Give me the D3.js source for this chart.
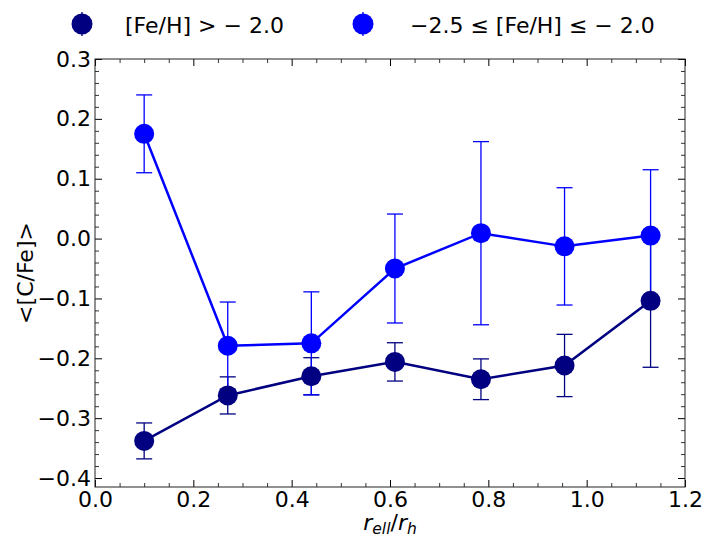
<!DOCTYPE html>
<html>
<head>
<meta charset="utf-8">
<script src="https://cdn.jsdelivr.net/npm/d3@7"></script>
<style>
  html, body { margin: 0; padding: 0; background: #fff; }
  svg { display: block; font-family: "DejaVu Sans", sans-serif; }
</style>
</head>
<body>
<svg id="chart" width="719" height="535"></svg>
<script>
// ---- data ----
const radii = [0.1, 0.27, 0.44, 0.61, 0.785, 0.955, 1.13];
const metalRichCFe = [-0.338, -0.262, -0.230, -0.206, -0.235, -0.212, -0.104];
const metalRichErr = [0.030, 0.031, 0.031, 0.032, 0.034, 0.052, 0.111];
const metalPoorCFe = [0.175, -0.179, -0.175, -0.050, 0.009, -0.013, 0.005];
const metalPoorErr = [0.065, 0.073, 0.086, 0.091, 0.153, 0.098, 0.110];
const seriesNames = ["[Fe/H] > \u2212 2.0", "\u22122.5 \u2264 [Fe/H] \u2264 \u2212 2.0"];
const xTicks = [0.0, 0.2, 0.4, 0.6, 0.8, 1.0, 1.2];
const yTicks = [-0.4, -0.3, -0.2, -0.1, 0.0, 0.1, 0.2, 0.3];

const colors = ["#000080", "#0000ff"];
const series = [
  { name: seriesNames[0], y: metalRichCFe, e: metalRichErr, color: colors[0] },
  { name: seriesNames[1], y: metalPoorCFe, e: metalPoorErr, color: colors[1] }
];

const svg = d3.select("#chart");
const L = 95, R = 685, T = 59, B = 487;
const FS = 22;
const x = d3.scaleLinear().domain([0, 1.2]).range([L, R]);
const y = d3.scaleLinear().domain([-0.415, 0.3]).range([B, T]);

const fmt = v => (v < 0 ? "\u2212" : "") + Math.abs(v).toFixed(1);

// axes with inward ticks
const xMinor = d3.range(0, 1.2001, 0.05).filter(v => Math.abs(v / 0.2 - Math.round(v / 0.2)) > 1e-6);
const yMinor = d3.range(-0.40, 0.3001, 0.02).filter(v => Math.abs(v / 0.1 - Math.round(v / 0.1)) > 1e-6);

function axisGroup(axisFn, tx, ty, ticks, minor, labels, pad) {
  const gMaj = svg.append("g").attr("transform", `translate(${tx},${ty})`)
    .call(axisFn.tickValues(ticks).tickSizeInner(-7).tickSizeOuter(0)
      .tickPadding(labels ? pad : 0).tickFormat(labels ? fmt : () => ""));
  gMaj.select(".domain").remove();
  gMaj.selectAll("text").attr("font-size", FS).attr("font-family", "DejaVu Sans").attr("fill", "#000");
  gMaj.selectAll("line").attr("stroke", "#000").attr("stroke-width", 1);
  const gMin = svg.append("g").attr("transform", `translate(${tx},${ty})`)
    .call(axisFn.tickValues(minor).tickSizeInner(-4).tickSizeOuter(0).tickFormat(() => ""));
  gMin.select(".domain").remove();
  gMin.selectAll("line").attr("stroke", "#000").attr("stroke-width", 0.8);
  return gMaj;
}
axisGroup(d3.axisBottom(x), 0, B, xTicks, xMinor, true, 4);
axisGroup(d3.axisTop(x), 0, T, xTicks, xMinor, false, 0);
axisGroup(d3.axisLeft(y), L, 0, yTicks, yMinor, true, 4);
axisGroup(d3.axisRight(y), R, 0, yTicks, yMinor, false, 0);

svg.append("rect").attr("x", L).attr("y", T).attr("width", R - L).attr("height", B - T)
  .attr("fill", "none").attr("stroke", "#222").attr("stroke-width", 1);

// error bars
series.forEach(s => {
  const g = svg.append("g");
  radii.forEach((r, i) => {
    const cx = x(r), y1 = y(s.y[i] + s.e[i]), y2 = y(s.y[i] - s.e[i]);
    g.append("line").attr("x1", cx).attr("x2", cx).attr("y1", y1).attr("y2", y2)
      .attr("stroke", s.color).attr("stroke-width", 1.3);
    [y1, y2].forEach(yy => g.append("line").attr("x1", cx - 8).attr("x2", cx + 8)
      .attr("y1", yy).attr("y2", yy).attr("stroke", s.color).attr("stroke-width", 1.3));
  });
});

// lines and markers
const lineGen = d3.line().x((d, i) => x(radii[i])).y(d => y(d));
series.forEach(s => {
  svg.append("path").datum(s.y).attr("d", lineGen).attr("fill", "none")
    .attr("stroke", s.color).attr("stroke-width", 2.5);
});
series.forEach(s => {
  svg.append("g").selectAll("circle").data(s.y).join("circle")
    .attr("cx", (d, i) => x(radii[i])).attr("cy", d => y(d)).attr("r", 10)
    .attr("fill", s.color);
});

// axis labels
svg.append("text").attr("transform", `translate(33,${(T + B) / 2}) rotate(-90)`)
  .attr("text-anchor", "middle").attr("font-size", FS).text("<[C/Fe]>");

const xl = svg.append("text").attr("x", (L + R) / 2).attr("y", 530).attr("text-anchor", "middle")
  .attr("font-size", FS);
xl.append("tspan").attr("font-style", "italic").text("r");
xl.append("tspan").attr("font-style", "italic").attr("font-size", 15.5).attr("dy", 4).text("ell");
xl.append("tspan").attr("dy", -4).text("/");
xl.append("tspan").attr("font-style", "italic").text("r");
xl.append("tspan").attr("font-style", "italic").attr("font-size", 15.5).attr("dy", 4).text("h");

// legend
const legendMarkerX = [82, 363];
const legendTextX = [125, 410];
series.forEach((s, i) => {
  const g = svg.append("g").attr("transform", `translate(${legendMarkerX[i]},24)`);
  g.append("line").attr("x1", 0).attr("x2", 0).attr("y1", -12).attr("y2", 12)
    .attr("stroke", s.color).attr("stroke-width", 1.3);
  g.append("circle").attr("r", 10.5).attr("fill", s.color);
  svg.append("text").attr("x", legendTextX[i]).attr("y", 33).attr("font-size", FS).text(s.name);
});
</script>
</body>
</html>
